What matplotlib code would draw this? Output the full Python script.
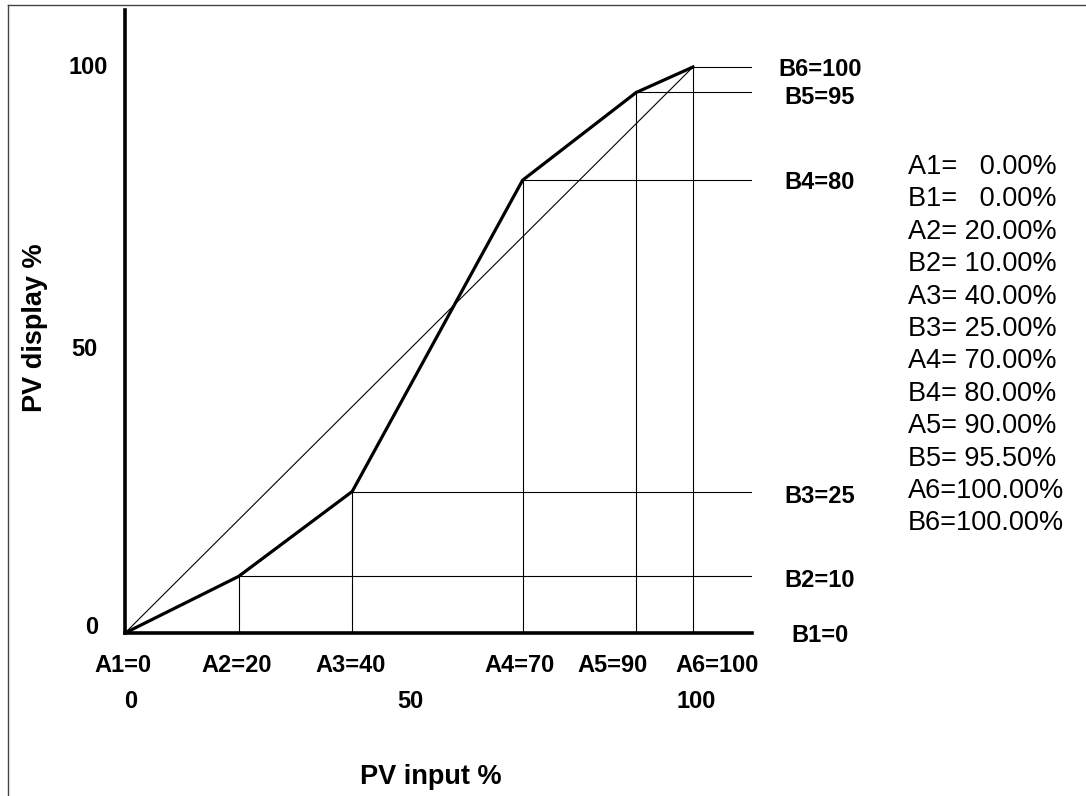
import matplotlib
matplotlib.use("Agg")
import matplotlib.pyplot as plt
from matplotlib.lines import Line2D

# Data
a_vals = [0, 20, 40, 70, 90, 100]
b_vals = [0, 10, 25, 80, 95.5, 100]
a_labels = ["A1=0", "A2=20", "A3=40", "A4=70", "A5=90", "A6=100"]
b_labels = ["B1=0", "B2=10", "B3=25", "B4=80", "B5=95", "B6=100"]
x_ticks = [0, 50, 100]
y_ticks = [0, 50, 100]
table_names = ["A1=", "B1=", "A2=", "B2=", "A3=", "B3=", "A4=", "B4=", "A5=", "B5=", "A6=", "B6="]
table_values = ["0.00%", "0.00%", "20.00%", "10.00%", "40.00%", "25.00%",
                "70.00%", "80.00%", "90.00%", "95.50%", "100.00%", "100.00%"]

# label nudges (pixels), style only
a_dx = [-2, -2, -2, -3, -24, 24]
b_dy = [-2, -4, -5, -2, -5, -2]
x_tick_dx = [6, 1, 3]
y_tick_dx = [-33, -41, -37]
y_tick_dy = [5, 0, 0]

W, H = 1086, 796
fig = plt.figure(figsize=(W / 100, H / 100), dpi=100)

lab_font = dict(family=["Liberation Sans", "DejaVu Sans"], fontsize=17, fontweight="bold")
plain = ["Liberation Sans", "DejaVu Sans"]

# figure frame (top and left)
fig.add_artist(Line2D([8 / W, 8 / W], [0, 1 - 5 / H], transform=fig.transFigure, color="#444444", lw=1.0))
fig.add_artist(Line2D([8 / W, 1], [1 - 5 / H, 1 - 5 / H], transform=fig.transFigure, color="#444444", lw=1.0))

x0, x1 = 125, 752
y0, y1 = 633, 10
ax = fig.add_axes([x0 / W, (H - y0) / H, (x1 - x0) / W, (y0 - y1) / H])
xmax = (x1 - x0) / 5.68
ymax = (y0 - y1) / 5.66
ax.set_xlim(0, xmax)
ax.set_ylim(0, ymax)
ax.set_xticks([])
ax.set_yticks([])
for s in ["top", "right"]:
    ax.spines[s].set_visible(False)
for s in ["left", "bottom"]:
    ax.spines[s].set_linewidth(2.6)
    ax.spines[s].set_color("black")
ax.patch.set_alpha(0)

# diagonal reference
ax.plot([0, 100], [0, 100], color="black", lw=0.8)

# guide lines
for a, b in zip(a_vals[1:], b_vals[1:]):
    ax.plot([a, a], [0, b], color="black", lw=0.8)
    ax.plot([a, xmax], [b, b], color="black", lw=0.8)

# main curve
ax.plot(a_vals, b_vals, color="black", lw=2.3, solid_joinstyle="miter")

# A labels under x-axis
for a, lab, dx in zip(a_vals, a_labels, a_dx):
    ax.annotate(lab, (a, 0), xytext=(dx, -32), textcoords="offset pixels", ha="center", va="center",
                annotation_clip=False, **lab_font)
# x tick numbers
for t, dx in zip(x_ticks, x_tick_dx):
    ax.annotate(str(t), (t, 0), xytext=(dx, -68), textcoords="offset pixels",
                ha="center", va="center", annotation_clip=False, **lab_font)
# y tick numbers
for t, dx, dy in zip(y_ticks, y_tick_dx, y_tick_dy):
    ax.annotate(str(t), (0, t), xytext=(dx, dy), textcoords="offset pixels",
                ha="center", va="center", annotation_clip=False, **lab_font)
# B labels on right
for b, lab, dy in zip(b_vals, b_labels, b_dy):
    ax.annotate(lab, (xmax, b), xytext=(68, dy), textcoords="offset pixels",
                ha="center", va="center", annotation_clip=False, **lab_font)

# axis titles
fig.text(35 / W, 1 - 328 / H, "PV display %", rotation=90, ha="center", va="center",
         fontsize=19.5, fontweight="bold", family=plain)
fig.text(431 / W, 1 - 777 / H, "PV input %", ha="center", va="center",
         fontsize=19.5, fontweight="bold", family=plain)

# parameter table (values padded with spaces)
ytop = 167
step = 32.4
width = max(len(v) for v in table_values)
for i, (n, v) in enumerate(zip(table_names, table_values)):
    yy = 1 - (ytop + i * step) / H
    pad = " " * max(0, 2 * (width - len(v)) - 1)
    fig.text(908 / W, yy, n + pad + v, ha="left", va="center", fontsize=19.5, family=plain)

fig.savefig("out.png", dpi=100)
